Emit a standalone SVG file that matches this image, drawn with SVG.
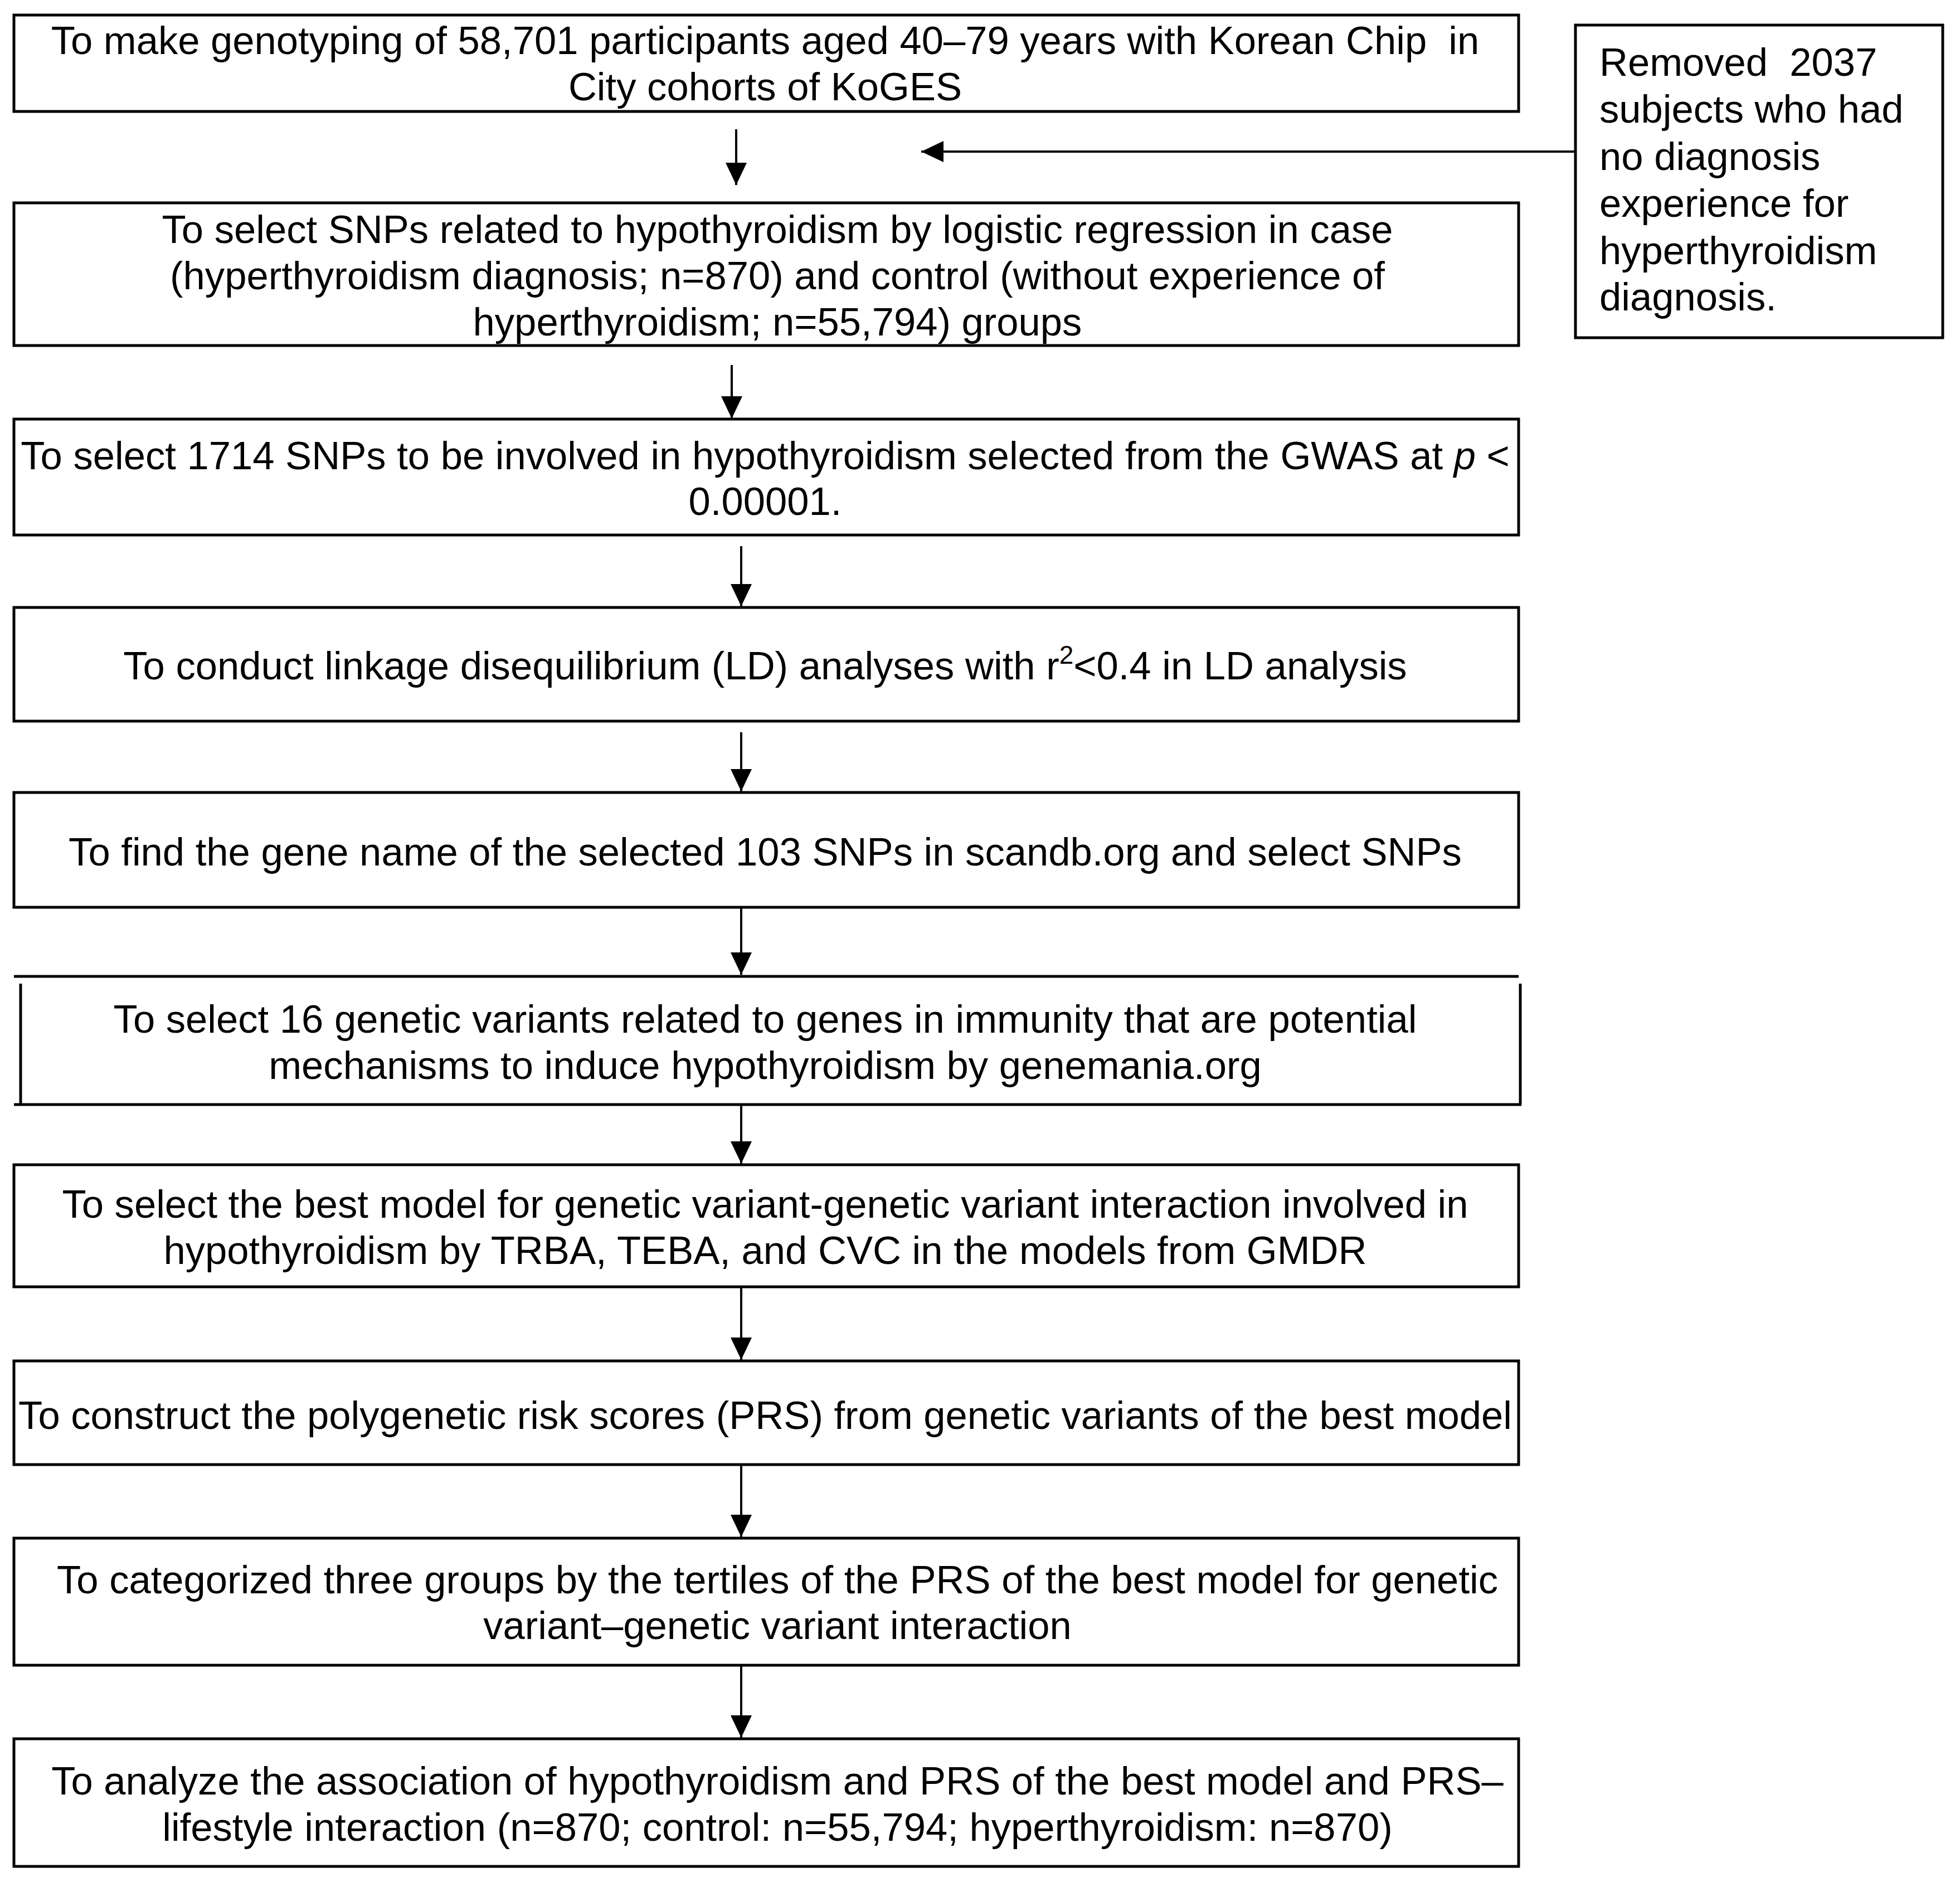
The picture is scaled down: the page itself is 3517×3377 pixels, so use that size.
<svg xmlns="http://www.w3.org/2000/svg" width="3517" height="3377" viewBox="0 0 3517 3377">
<style>
.box{fill:#fff;stroke:#000;stroke-width:5}
.edge{stroke:#000;stroke-width:5;fill:none}
.t{font-family:"Liberation Sans",Arial,sans-serif;font-size:70.6px;fill:#000;text-anchor:middle;white-space:pre}
.s{font-family:"Liberation Sans",Arial,sans-serif;font-size:70.6px;fill:#000;white-space:pre}
.c{stroke:#000;stroke-width:4;fill:none;marker-end:url(#ah)}
</style>
<defs>
<marker id="ah" markerUnits="userSpaceOnUse" viewBox="0 0 40 38" refX="40" refY="19" markerWidth="40" markerHeight="38" orient="auto">
<path d="M0,0 L40,19 L0,38 z" fill="#000"/>
</marker>
</defs>
<rect width="3517" height="3377" fill="#fff"/>
<g id="connectors">
<line class="c" x1="1321" y1="232" x2="1321" y2="332"/>
<line class="c" x1="2827" y1="272" x2="1653" y2="272"/>
<line class="c" x1="1313" y1="655" x2="1313" y2="751"/>
<line class="c" x1="1330" y1="980" x2="1330" y2="1088"/>
<line class="c" x1="1330" y1="1314" x2="1330" y2="1420"/>
<line class="c" x1="1330" y1="1628" x2="1330" y2="1749"/>
<line class="c" x1="1330" y1="1982" x2="1330" y2="2088"/>
<line class="c" x1="1330" y1="2309" x2="1330" y2="2440"/>
<line class="c" x1="1330" y1="2628" x2="1330" y2="2758"/>
<line class="c" x1="1330" y1="2988" x2="1330" y2="3118"/>
</g>
<g id="n1">
<rect class="box" x="25" y="27" width="2700" height="173"/>
<text class="t" x="1373" y="97">To make genotyping of 58,701 participants aged 40–79 years with Korean Chip  in</text>
<text class="t" x="1373" y="180">City cohorts of KoGES</text>
</g>
<g id="n_side">
<rect class="box" x="2827" y="45" width="659" height="561"/>
<text class="s" x="2870" y="136">Removed  2037</text>
<text class="s" x="2870" y="220">subjects who had</text>
<text class="s" x="2870" y="305">no diagnosis</text>
<text class="s" x="2870" y="389">experience for</text>
<text class="s" x="2870" y="474">hyperthyroidism</text>
<text class="s" x="2870" y="557">diagnosis.</text>
</g>
<g id="n2">
<rect class="box" x="25" y="364" width="2700" height="256"/>
<text class="t" x="1395" y="436">To select SNPs related to hypothyroidism by logistic regression in case</text>
<text class="t" x="1395" y="519">(hyperthyroidism diagnosis; n=870) and control (without experience of</text>
<text class="t" x="1395" y="602">hyperthyroidism; n=55,794) groups</text>
</g>
<g id="n3">
<rect class="box" x="25" y="752" width="2700" height="208"/>
<text class="t" x="1373" y="842">To select 1714 SNPs to be involved in hypothyroidism selected from the GWAS at <tspan font-style="italic">p</tspan> &lt;</text>
<text class="t" x="1373" y="924">0.00001.</text>
</g>
<g id="n4">
<rect class="box" x="25" y="1090" width="2700" height="204"/>
<text class="t" x="1373" y="1219">To conduct linkage disequilibrium (LD) analyses with r<tspan dy="-28" font-size="46">2</tspan><tspan dy="28">&lt;0.4 in LD analysis</tspan></text>
</g>
<g id="n5">
<rect class="box" x="25" y="1422" width="2700" height="206"/>
<text class="t" x="1373" y="1553">To find the gene name of the selected 103 SNPs in scandb.org and select SNPs</text>
</g>
<g id="n6">
<rect x="37" y="1752" width="2691" height="230" fill="#fff"/>
<line class="edge" x1="25" y1="1752" x2="2725" y2="1752"/>
<line class="edge" x1="37" y1="1765" x2="37" y2="1982"/>
<line class="edge" x1="2728" y1="1765" x2="2728" y2="1982"/>
<line class="edge" x1="25" y1="1982" x2="2730" y2="1982"/>
<text class="t" x="1373" y="1853">To select 16 genetic variants related to genes in immunity that are potential</text>
<text class="t" x="1373" y="1936">mechanisms to induce hypothyroidism by genemania.org</text>
</g>
<g id="n7">
<rect class="box" x="25" y="2090" width="2700" height="219"/>
<text class="t" x="1373" y="2185">To select the best model for genetic variant-genetic variant interaction involved in</text>
<text class="t" x="1373" y="2268">hypothyroidism by TRBA, TEBA, and CVC in the models from GMDR</text>
</g>
<g id="n8">
<rect class="box" x="25" y="2442" width="2700" height="186"/>
<text class="t" x="1373" y="2564">To construct the polygenetic risk scores (PRS) from genetic variants of the best model</text>
</g>
<g id="n9">
<rect class="box" x="25" y="2760" width="2700" height="228"/>
<text class="t" x="1395" y="2859">To categorized three groups by the tertiles of the PRS of the best model for genetic</text>
<text class="t" x="1395" y="2941">variant–genetic variant interaction</text>
</g>
<g id="n10">
<rect class="box" x="25" y="3120" width="2700" height="229"/>
<text class="t" x="1395" y="3220">To analyze the association of hypothyroidism and PRS of the best model and PRS–</text>
<text class="t" x="1395" y="3303">lifestyle interaction (n=870; control: n=55,794; hyperthyroidism: n=870)</text>
</g>
</svg>
